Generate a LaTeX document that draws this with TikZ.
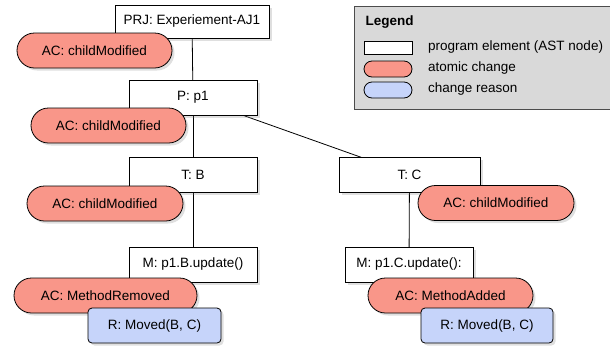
\documentclass[tikz,border=0pt]{standalone}
\usepackage{fontspec}
\setmainfont{Liberation Sans}
\usetikzlibrary{shapes.misc,shadows,backgrounds}
\definecolor{acred}{RGB}{249,150,137}
\definecolor{rblue}{RGB}{198,212,250}
\definecolor{leggray}{RGB}{217,217,217}

\begin{document}
\begin{tikzpicture}[x=1pt,y=-1pt,
		font=\fontsize{13.5}{16}\selectfont,
		shade/.style={drop shadow={opacity=0.25,shadow xshift=2.5pt,shadow yshift=-2.5pt}},
		ast node/.style={rectangle,draw,fill=white,line width=0.8pt,
			minimum height=35pt,inner sep=0pt,shade},
		ac node/.style={rounded rectangle,draw,fill=acred,line width=0.8pt,
			minimum height=35pt,inner sep=0pt,shade},
		reason node/.style={rectangle,rounded corners=4pt,draw,fill=rblue,
			line width=0.8pt,minimum height=35pt,inner sep=0pt,shade},
		tree edge/.style={line width=0.8pt}]
	\useasboundingbox (0,0) rectangle (610,349);
	
	% legend
	\node[rectangle,draw=black!70,fill=leggray,line width=0.8pt,anchor=north west,
		minimum width=280pt,minimum height=103pt] (legend) at (354,6) {};
	\node[anchor=west,font=\fontsize{13.5}{16}\selectfont\bfseries] (legtitle) at (362,22) {Legend};
	\node[rectangle,draw,fill=white,line width=0.8pt,minimum width=48pt,minimum height=13pt] (legast) at (388,47.5) {};
	\node[rounded rectangle,draw,fill=acred,line width=0.8pt,minimum width=48pt,minimum height=16pt,inner sep=0pt] (legac) at (388,69) {};
	\node[rounded rectangle,draw,fill=rblue,line width=0.8pt,minimum width=48pt,minimum height=16pt,inner sep=0pt] (legr) at (388,90) {};
	\node[anchor=west,inner sep=0pt] (legasttext) at (428,47) {program element (AST node)};
	\node[anchor=west,inner sep=0pt] (legactext) at (428,68) {atomic change};
	\node[anchor=west,inner sep=0pt] (legrtext) at (428,89) {change reason};
	
	% program tree
	\node[ast node,minimum width=154pt,minimum height=33pt] (prj) at (192,21.5) {PRJ: Experiement-AJ1};
	\node[ac node,minimum width=155pt] (acprj) at (94.5,50.5) {AC: childModified};
	\node[ast node,minimum width=128pt] (p) at (193,97.5) {P: p1};
	\node[ac node,minimum width=155pt] (acp) at (108.5,125.5) {AC: childModified};
	\node[ast node,minimum width=128pt] (tb) at (193,174.5) {T: B};
	\node[ac node,minimum width=156pt] (actb) at (105,203.5) {AC: childModified};
	\node[ast node,minimum width=128pt] (mb) at (193,264.5) {M: p1.B.update()};
	\node[ac node,minimum width=183pt] (acmb) at (105.5,295.5) {AC: MethodRemoved};
	\node[reason node,minimum width=133pt] (rmb) at (154.5,325.5) {R: Moved(B, C)};
	\node[ast node,minimum width=141pt] (tc) at (409.5,174.5) {T: C};
	\node[ac node,minimum width=156pt] (actc) at (496,203) {AC: childModified};
	\node[ast node,minimum width=128pt] (mc) at (409,264.5) {M: p1.C.update():};
	\node[ac node,minimum width=165pt] (acmc) at (450.5,295.5) {AC: MethodAdded};
	\node[reason node,minimum width=132pt] (rmc) at (487,325.5) {R: Moved(B, C)};
	
	\begin{scope}[on background layer]
		\path[tree edge]
		(prj.center) edge (p.center)
		(p.center) edge (tb.center)
		(p.center) edge (tc.center)
		(tb.center) edge (mb.center)
		(tc.center) edge (mc.center);
	\end{scope}
\end{tikzpicture}
\end{document}
